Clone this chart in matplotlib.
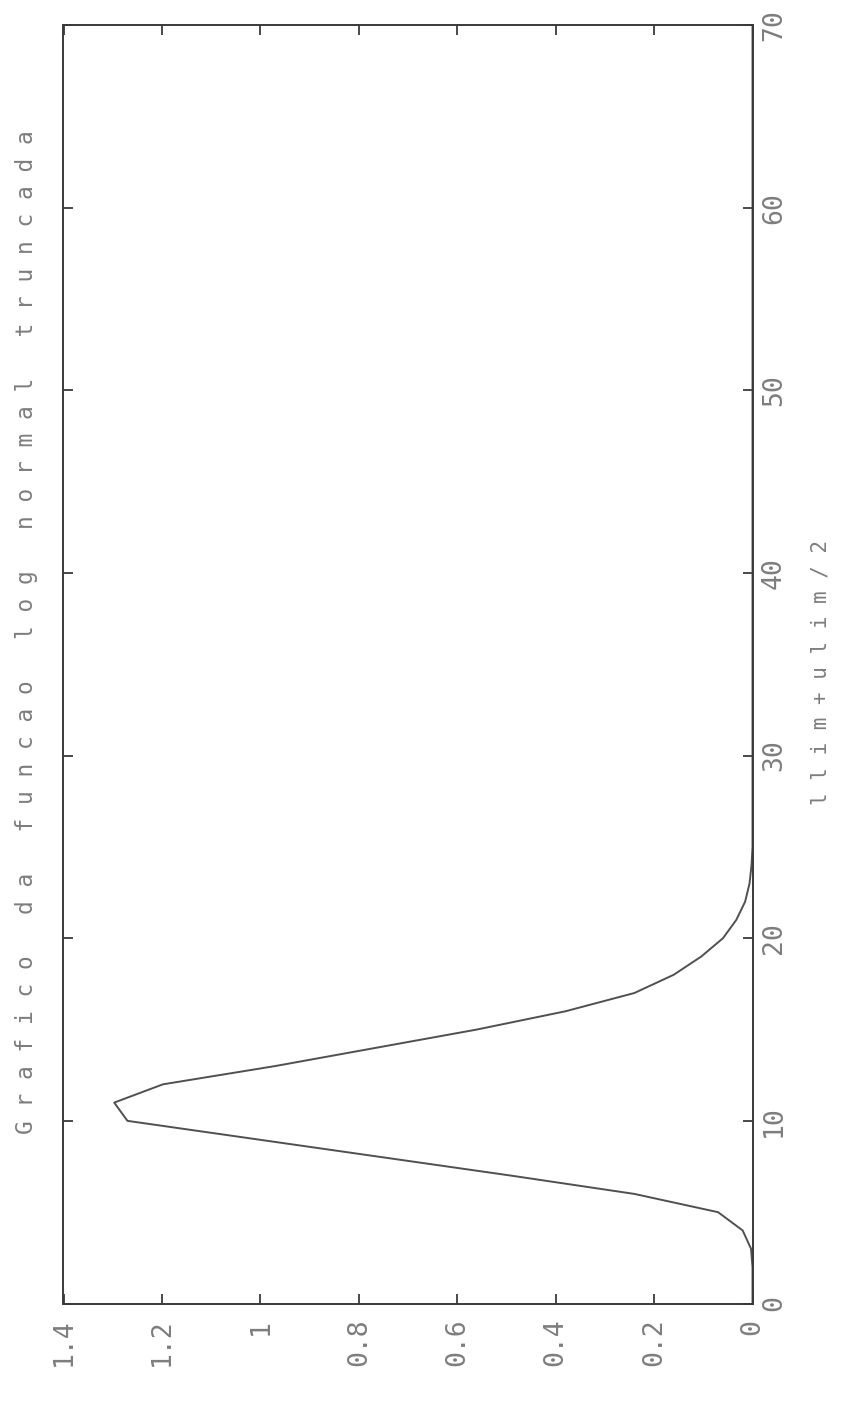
import matplotlib
matplotlib.use("Agg")
import matplotlib.pyplot as plt

# ---- data ----
x_vals = [0, 1, 2, 3, 4, 5, 6, 7, 8, 9, 10, 11, 12, 13, 14, 15, 16, 17,
          18, 19, 20, 21, 22, 23, 24, 25, 70]
density = [0.0, 0.0, 0.0, 0.003, 0.02, 0.07, 0.24, 0.49, 0.75, 1.01, 1.27,
           1.297, 1.198, 0.97, 0.765, 0.56, 0.38, 0.24, 0.16, 0.104, 0.06,
           0.033, 0.015, 0.006, 0.002, 0.0, 0.0]

x_ticks = [0, 10, 20, 30, 40, 50, 60, 70]
x_tick_labels = ["0", "10", "20", "30", "40", "50", "60", "70"]
d_ticks = [0, 0.2, 0.4, 0.6, 0.8, 1.0, 1.2, 1.4]
d_tick_labels = ["0", "0.2", "0.4", "0.6", "0.8", "1", "1.2", "1.4"]

title = "Grafico da funcao log normal truncada"
xlabel = "llim+ulim/2"


def spaced(s):
    return " ".join(s)


W, H = 843, 1402
fig = plt.figure(figsize=(W / 100, H / 100), dpi=100)
fig.patch.set_facecolor("white")

left, right, top, bottom = 63.5, 752.5, 25.0, 1303.5
ax = fig.add_axes([left / W, (H - bottom) / H, (right - left) / W, (bottom - top) / H])

txt_color = "#7d7d7d"
font = "DejaVu Sans Mono"

# chart is drawn rotated: function value runs horizontally (inverted), x runs vertically
ax.plot(density, x_vals, color="#505050", lw=1.4)

ax.set_xlim(1.4, 0)
ax.set_ylim(0, 70)

for sp in ax.spines.values():
    sp.set_color("#3a3a3a")
    sp.set_linewidth(1.4)

ax.set_xticks(d_ticks)
ax.set_xticklabels(d_tick_labels, rotation=90, ha="center", va="top",
                   family=font, color=txt_color, fontsize=19)
ax.set_yticks(x_ticks)
ax.set_yticklabels(x_tick_labels, rotation=90, ha="left", va="center",
                   family=font, color=txt_color, fontsize=19)

ax.tick_params(axis="x", direction="in", length=7, width=1.3, color="#3a3a3a",
               top=True, bottom=True, labelbottom=True, labeltop=False, pad=11)
ax.tick_params(axis="y", direction="in", length=7, width=1.3, color="#3a3a3a",
               left=True, right=True, labelleft=False, labelright=True, pad=6)

ax.yaxis.set_label_position("right")
ax.set_ylabel(spaced(xlabel), rotation=90, family=font, color=txt_color,
              fontsize=15, ha="center", va="center")
ax.yaxis.set_label_coords((820 - left) / (right - left), (bottom - 672) / (bottom - top))

ax.set_title(spaced(title), rotation=90, family=font, color=txt_color, fontsize=16.5,
             x=(27 - left) / (right - left), y=(bottom - 632) / (bottom - top),
             pad=0, ha="center", va="center")

fig.savefig("out.png", dpi=100, facecolor="white")
